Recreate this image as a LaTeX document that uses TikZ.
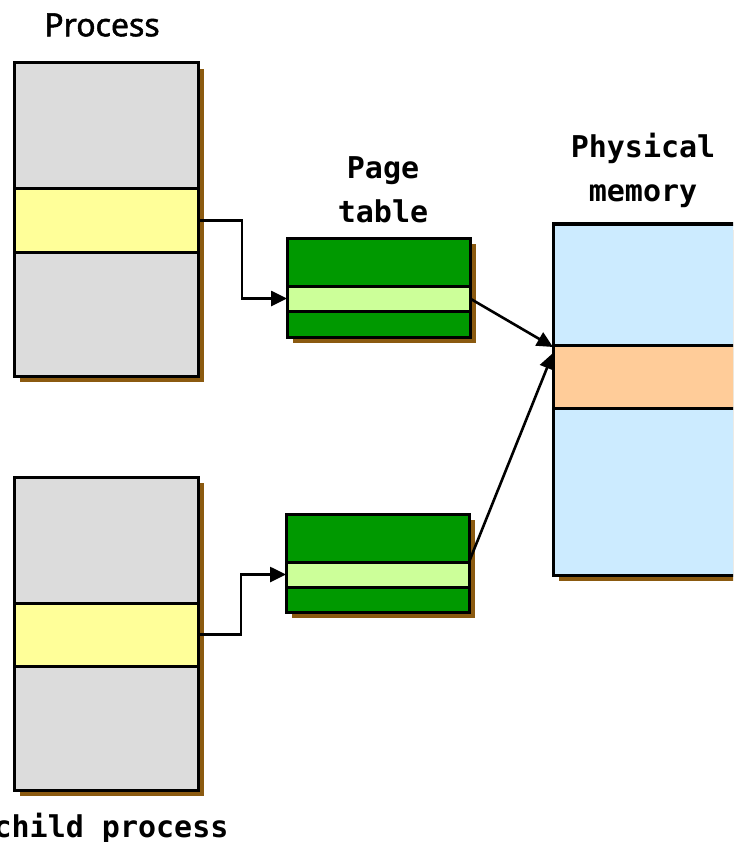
\documentclass[tikz,border=0pt]{standalone}
\usepackage{fontspec}
\setmainfont{Noto Sans}
\newfontfamily\procfnt[FakeBold=1.6]{Noto Sans}
\newfontfamily\monofnt{DejaVu Sans Mono}
\usetikzlibrary{arrows.meta,shadows}
\definecolor{procgray}{HTML}{DCDCDC}
\definecolor{pageyellow}{HTML}{FFFF99}
\definecolor{ptgreen}{HTML}{009900}
\definecolor{ptlight}{HTML}{CCFF99}
\definecolor{memblue}{HTML}{CCEBFF}
\definecolor{memorange}{HTML}{FFCC99}
\definecolor{shadowbrown}{HTML}{8B5A10}
\tikzset{
  blk/.style={rectangle, anchor=north west, inner sep=0pt, outer sep=0pt,
    line width=3pt, draw=black},
  shade5/.style={copy shadow={shadow xshift=6pt, shadow yshift=-6pt,
    fill=shadowbrown, draw=none}},
  arr/.style={line width=2.6pt, -{Triangle[length=16pt,width=15pt]}},
  lbl/.style={font=\monofnt\bfseries\fontsize{30}{44}\selectfont, align=center, inner sep=0pt},
}
\begin{document}
\begin{tikzpicture}[x=1pt,y=-1pt]
\useasboundingbox (0,0) rectangle (733,842);
\clip (0,0) rectangle (733,842);

% process address space
\node[blk, shade5, fill=procgray, minimum width=184pt, minimum height=313pt] (proc) at (14,63) {};
\node[blk, fill=pageyellow, minimum width=184pt, minimum height=63pt] (pb) at (14,189) {};

% child address space
\node[blk, shade5, fill=procgray, minimum width=184pt, minimum height=313pt] (child) at (14,477) {};
\node[blk, fill=pageyellow, minimum width=184pt, minimum height=63pt] (cb) at (14,603) {};

% page tables
\node[blk, shade5, fill=ptgreen, minimum width=183pt, minimum height=99pt] (pt1) at (287,238) {};
\node[blk, fill=ptlight, minimum width=183pt, minimum height=25pt] (t1b) at (287,286) {};
\node[blk, shade5, fill=ptgreen, minimum width=183pt, minimum height=98pt] (pt2) at (286,514) {};
\node[blk, fill=ptlight, minimum width=183pt, minimum height=25pt] (t2b) at (286,562) {};

% physical memory
\node[blk, shade5, fill=memblue, minimum width=200pt, minimum height=351pt] (mem) at (553,224) {};
\node[blk, fill=memorange, minimum width=200pt, minimum height=63pt] (mb) at (553,345) {};

% labels
\node[font=\procfnt\fontsize{32}{36}\selectfont, inner sep=0pt] (lproc) at (102,25) {Process};
\node[lbl] (lpt) at (383,190) {Page\\table};
\node[lbl] (lmem) at (643,170) {Physical\\memory};
\node[lbl] (lchild) at (111,828) {child process};

% mappings
\draw[arr] (pb.east) -- ++(44,0) |- (t1b.west);
\draw[arr] (cb.east) -- ++(43,0) |- (t2b.west);
\draw[arr] (t1b.east) -- ([yshift=-2pt]mb.north west);
\draw[arr] (t2b.north east) -- ([yshift=-8pt]mb.north west);
\end{tikzpicture}
\end{document}
